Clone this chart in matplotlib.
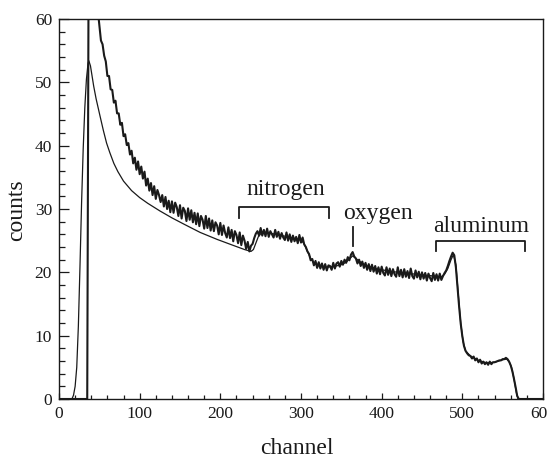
import matplotlib
matplotlib.use("Agg")
import matplotlib.pyplot as plt
from matplotlib.ticker import MultipleLocator

# ---------------- data ----------------
# measured spectrum (noisy curve)
data_head_ch = [0, 35, 37, 40, 44, 48]
data_head_ct = [0, 0, 80, 82, 72, 61.5]
data_step_start = 50   # regular channels 50, 52, ..., 568
data_step = 2
data_counts = [
    59.0, 56.6, 56.0, 54.2, 53.3, 51.0, 51.0, 48.9, 48.8, 46.8,   # 50-68
    47.1, 45.1, 45.1, 43.3, 43.6, 41.5, 41.8, 40.1, 40.4, 38.6,   # 70-88
    39.2, 37.2, 38.1, 36.2, 37.5, 35.5, 36.7, 34.8, 35.9, 33.7,   # 90-108
    34.8, 32.9, 34.1, 32.2, 33.6, 31.6, 33.0, 32.2, 31.1, 32.2,   # 110-128
    30.4, 31.9, 30.0, 31.3, 29.5, 31.2, 29.4, 31.0, 30.3, 28.9,   # 130-148
    30.6, 28.5, 30.2, 29.7, 28.1, 30.1, 28.3, 29.8, 27.9, 29.4,   # 150-168
    27.6, 29.3, 27.3, 28.9, 28.3, 26.9, 28.9, 27.0, 28.5, 26.6,   # 170-188
    28.2, 26.5, 27.9, 27.4, 26.0, 27.8, 25.9, 27.4, 26.2, 25.5,   # 190-208
    27.1, 25.4, 26.7, 24.9, 26.5, 25.9, 24.6, 26.3, 24.3, 25.8,   # 210-228
    25.0, 23.7, 24.8, 23.3, 24.2, 24.5, 25.4, 26.1, 26.5, 25.8,   # 230-248
    27.0, 25.8, 26.7, 25.7, 26.9, 25.6, 26.5, 26.0, 25.5, 26.7,   # 250-268
    25.6, 26.4, 25.3, 26.2, 25.5, 25.1, 26.3, 25.0, 26.0, 24.8,   # 270-288
    25.8, 24.9, 25.6, 24.6, 25.9, 24.7, 25.5, 24.4, 24.0, 23.3,   # 290-308
    22.9, 21.9, 22.1, 21.1, 21.8, 20.7, 21.6, 20.6, 21.4, 20.4,   # 310-328
    21.3, 20.3, 21.1, 21.0, 20.4, 21.5, 20.6, 21.4, 21.6, 20.9,   # 330-348
    21.8, 21.2, 22.0, 21.5, 22.4, 21.9, 22.8, 23.2, 22.5, 22.2,   # 350-368
    21.4, 22.0, 21.0, 21.7, 20.7, 21.5, 20.4, 21.3, 20.2, 21.2,   # 370-388
    20.1, 21.0, 19.8, 20.8, 19.7, 20.9, 19.9, 19.5, 20.8, 19.6,   # 390-408
    20.6, 19.4, 20.5, 19.7, 19.3, 20.8, 19.4, 20.4, 19.2, 20.5,   # 410-428
    19.3, 20.2, 19.1, 20.6, 19.4, 19.0, 20.3, 19.2, 20.1, 18.9,   # 430-448
    20.0, 19.0, 19.9, 18.7, 19.8, 19.1, 18.6, 19.9, 18.8, 19.7,   # 450-468
    18.7, 19.8, 18.8, 19.4, 19.9, 20.3, 21.0, 21.8, 22.5, 23.1,   # 470-488
    22.7, 20.8, 17.6, 14.6, 11.9, 9.9, 8.4, 7.6, 7.2, 6.9,        # 490-508
    6.8, 6.4, 6.7, 6.1, 6.4, 5.8, 6.2, 5.6, 5.9, 5.5,             # 510-528
    5.8, 5.4, 5.9, 5.5, 5.8, 5.8, 5.9, 6.0, 6.1, 6.1,             # 530-548
    6.3, 6.3, 6.5, 6.3, 5.9, 5.3, 4.4, 3.2, 1.9, 0.5,             # 550-568
]
data_tail_ch = [570, 600]
data_tail_ct = [0, 0]

# simulated spectrum (smooth curve)
sim_ch = [0, 16, 18, 20, 22, 24, 26, 28, 30, 32,
          34, 36, 37, 39, 41, 43, 46, 51, 55, 59,
          63, 68, 73, 80, 90, 100, 110, 125, 140, 155,
          175, 196, 215, 230, 238, 241, 244, 247, 250, 260,
          270, 280, 290, 300, 304, 308, 312, 316, 320, 330,
          340, 350, 356, 360, 364, 368, 374, 382, 395, 420,
          450, 474, 478, 482, 486, 489, 492, 495, 498, 501,
          504, 510, 520, 530, 540, 550, 555, 558, 561, 564,
          567, 569, 600]
sim_ct = [0, 0, 0.6, 2.0, 5.0, 11.5, 20.9, 31.0, 39.5, 46.0,
          50.5, 53.0, 53.4, 52.6, 51.0, 49.4, 47.4, 44.6, 42.4, 40.4,
          38.9, 37.2, 35.9, 34.4, 32.9, 31.8, 30.9, 29.7, 28.6, 27.6,
          26.3, 25.2, 24.3, 23.6, 23.3, 23.6, 24.6, 25.6, 26.1, 26.2,
          26.0, 25.7, 25.4, 25.1, 24.5, 23.3, 22.2, 21.5, 21.1, 20.8,
          20.9, 21.2, 21.6, 22.1, 22.6, 22.2, 21.6, 21.0, 20.5, 20.0,
          19.6, 19.3, 19.7, 20.6, 22.0, 22.8, 21.2, 16.5, 12.0, 9.0,
          7.6, 6.8, 6.1, 5.7, 5.8, 6.2, 6.3, 5.9, 5.0, 3.2,
          1.0, 0, 0]

x_ticks = [0, 100, 200, 300, 400, 500, 600]
y_ticks = [0, 10, 20, 30, 40, 50, 60]
annotations = ["nitrogen", "oxygen", "aluminum"]

# ---------------- build ----------------
step_ch = [data_step_start + data_step * i for i in range(len(data_counts))]
data_ch = data_head_ch + step_ch + data_tail_ch
data_ct = data_head_ct + data_counts + data_tail_ct

plt.rcParams['font.family'] = ['Liberation Serif', 'DejaVu Serif']
ink = '#1a1a1a'

fig = plt.figure(figsize=(5.47, 4.59), dpi=100)
ax = fig.add_axes([59/547, 1-399/459, 484/547, 380/459])

ax.plot(sim_ch, sim_ct, color=ink, lw=0.9, zorder=2)
ax.plot(data_ch, data_ct, color=ink, lw=1.5, zorder=3)

ax.set_xlim(0, 600)
ax.set_ylim(0, 60)
ax.set_xticks(x_ticks)
ax.set_yticks(y_ticks)
ax.xaxis.set_minor_locator(MultipleLocator(20))
ax.yaxis.set_minor_locator(MultipleLocator(2))
ax.tick_params(which='both', direction='in', top=False, right=False,
               color=ink, labelcolor=ink, labelsize=12.5, width=0.9)
ax.tick_params(axis='x', which='major', length=4.5, pad=5)
ax.tick_params(axis='x', which='minor', length=3)
ax.tick_params(axis='y', which='major', length=7, pad=5)
ax.tick_params(axis='y', which='minor', length=4.5)
for s in ax.spines.values():
    s.set_linewidth(1.0)
    s.set_color(ink)

fig.text(297/547, 1-454/459, 'channel', ha='center', va='baseline',
         fontsize=17, color=ink)
fig.text(17/547, 1-210/459, 'counts', ha='center', va='center',
         rotation=90, fontsize=17, color=ink)

# nitrogen bracket
ax.plot([223, 223, 335, 335], [28.6, 30.3, 30.3, 28.6], color=ink, lw=1.3)
ax.text(281, 32.2, annotations[0], ha='center', va='baseline', fontsize=17, color=ink)
# oxygen marker
ax.plot([364, 364], [24.1, 27.2], color=ink, lw=1.3)
ax.text(395, 28.4, annotations[1], ha='center', va='baseline', fontsize=17, color=ink)
# aluminum bracket
ax.plot([467, 467, 578, 578], [23.3, 24.9, 24.9, 23.3], color=ink, lw=1.3)
ax.text(523, 26.4, annotations[2], ha='center', va='baseline', fontsize=17, color=ink)

fig.savefig('out.png', dpi=100)
